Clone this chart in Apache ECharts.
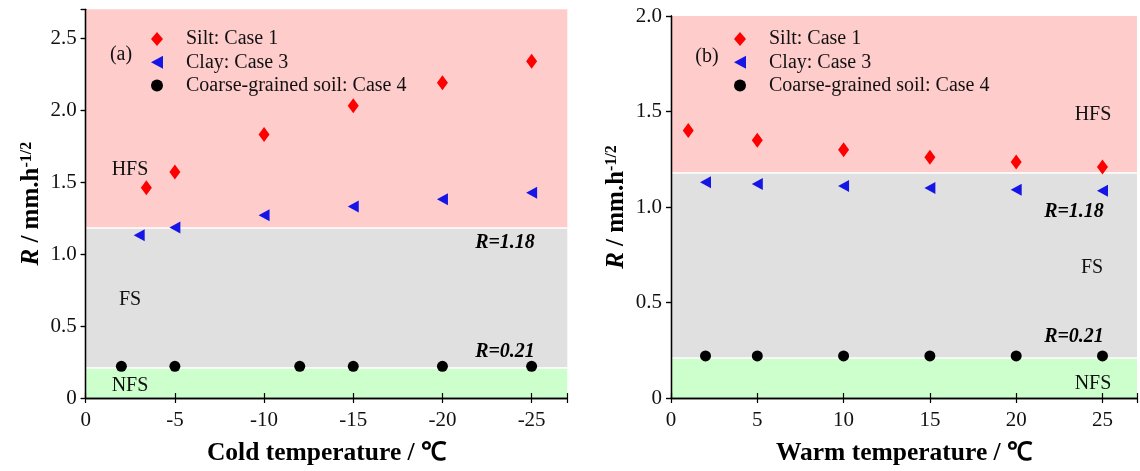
<!DOCTYPE html>
<html>
<head>
<meta charset="utf-8">
<script src="https://cdn.jsdelivr.net/npm/echarts@6/dist/echarts.min.js"></script>
<style>
html,body{margin:0;padding:0;background:#fff;}
#c{width:1140px;height:471px;}
</style>
</head>
<body>
<div id="c"></div>
<script>
// ---------- data ----------
const seriesNames = ['Silt: Case 1', 'Clay: Case 3', 'Coarse-grained soil: Case 4'];
// panel (a) cold temperature
const siltColdX = [-3.4, -5, -10, -15, -20, -25];
const siltColdR = [1.46, 1.57, 1.83, 2.03, 2.19, 2.34];
const clayColdX = [-3, -5, -10, -15, -20, -25];
const clayColdR = [1.13, 1.185, 1.27, 1.33, 1.38, 1.425];
const coarseColdX = [-2, -5, -12, -15, -20, -25];
const coarseColdR = [0.22, 0.22, 0.22, 0.22, 0.22, 0.22];
// panel (b) warm temperature
const siltWarmX = [1, 5, 10, 15, 20, 25];
const siltWarmR = [1.40, 1.35, 1.30, 1.26, 1.235, 1.21];
const clayWarmX = [2, 5, 10, 15, 20, 25];
const clayWarmR = [1.13, 1.12, 1.11, 1.10, 1.09, 1.085];
const coarseWarmX = [2, 5, 10, 15, 20, 25];
const coarseWarmR = [0.22, 0.22, 0.22, 0.22, 0.22, 0.22];
// classification thresholds
const thresholdNFS = 0.21;
const thresholdHFS = 1.18;
const bandLabels = ['HFS', 'FS', 'NFS'];
const thresholdLabels = ['R=1.18', 'R=0.21'];
const panelLabels = ['(a)', '(b)'];
const xTitles = ['Cold temperature / \u2103', 'Warm temperature / \u2103'];

// ---------- styling ----------
const SERIF = '"Liberation Serif", "Times New Roman", serif';
const RED = '#ff0000', BLUE = '#1515e6', BLACK = '#000000';
const PINK = '#ffcccc', GRAY = '#e0e0e0', GREEN = '#ccffcc';
const TRI_LEFT = 'path://M0,6 L11,0 L11,12 Z';

function zip(xs, ys) { return xs.map((x, i) => [x, ys[i]]); }

const yFmt = v => {
  if (Math.abs(v / 0.5 - Math.round(v / 0.5)) > 1e-6) return '';
  return v === 0 ? '0' : v.toFixed(1);
};
const xFmt = v => (Math.abs(v % 5) > 1e-6 ? '' : String(v));

const axisLineStyle = { show: true, lineStyle: { color: '#000', width: 1.3 } };

function xAxisPair(grid, min, max, inverse, title) {
  return [
    {
      type: 'value', gridIndex: grid, position: 'bottom', min, max, inverse, z: 10,
      axisLine: axisLineStyle,
      axisTick: { show: true, inside: true, length: 5, lineStyle: { color: '#000', width: 1.2 } },
      axisLabel: { formatter: xFmt, fontFamily: SERIF, fontSize: 21, color: '#111', margin: 12 },
      splitLine: { show: false },
      name: title, nameLocation: 'middle', nameGap: 42,
      nameTextStyle: { fontFamily: SERIF, fontWeight: 'bold', fontSize: 25.5, color: '#000' }
    },
    {
      type: 'value', gridIndex: grid, position: 'top', min, max, inverse, z: 10,
      axisLine: axisLineStyle,
      axisTick: { show: true, inside: true, length: 5, lineStyle: { color: '#000', width: 1.2 } },
      axisLabel: { show: false }, splitLine: { show: false }
    }
  ];
}
function yAxisPair(grid, max) {
  return [
    {
      type: 'value', gridIndex: grid, position: 'left', min: 0, max, interval: 0.5, z: 10,
      axisLine: axisLineStyle,
      axisTick: { show: true, inside: false, length: 5, lineStyle: { color: '#000', width: 1.2 } },
      axisLabel: { formatter: yFmt, fontFamily: SERIF, fontSize: 21, color: '#111', margin: 9 },
      splitLine: { show: false },
      name: '{i|R}{n| / mm.h}{s|-1/2}', nameLocation: 'middle', nameGap: 42,
      nameTextStyle: {
        fontFamily: SERIF, fontWeight: 'bold', fontSize: 25, color: '#000',
        rich: {
          i: { fontFamily: SERIF, fontWeight: 'bold', fontStyle: 'italic', fontSize: 25, color: '#000' },
          n: { fontFamily: SERIF, fontWeight: 'bold', fontSize: 25, color: '#000' },
          s: { fontFamily: SERIF, fontWeight: 'bold', fontSize: 16, color: '#000', verticalAlign: 'top' }
        }
      }
    },
    {
      type: 'value', gridIndex: grid, position: 'right', min: 0, max, interval: 0.5, z: 10,
      axisLine: axisLineStyle,
      axisTick: { show: true, inside: true, length: 5, lineStyle: { color: '#000', width: 1.2 } },
      axisLabel: { show: false }, splitLine: { show: false }
    }
  ];
}

function bands(xMin, xMax, yMax) {
  return {
    silent: true,
    data: [
      [{ xAxis: xMin, yAxis: thresholdHFS, itemStyle: { color: PINK } }, { xAxis: xMax, yAxis: yMax }],
      [{ xAxis: xMin, yAxis: thresholdNFS, itemStyle: { color: GRAY } }, { xAxis: xMax, yAxis: thresholdHFS }],
      [{ xAxis: xMin, yAxis: 0, itemStyle: { color: GREEN } }, { xAxis: xMax, yAxis: thresholdNFS }]
    ]
  };
}
const whiteLines = {
  silent: true, z: 1.5, symbol: 'none', label: { show: false },
  lineStyle: { color: '#ffffff', width: 1.6, type: 'solid' },
  data: [{ yAxis: thresholdHFS }, { yAxis: thresholdNFS }]
};

function panelSeries(xi, yi, silt, clay, coarse, xMin, xMax, yMax) {
  return [
    {
      name: seriesNames[0], type: 'scatter', xAxisIndex: xi, yAxisIndex: yi, z: 3,
      symbol: 'diamond', symbolSize: [11, 15], itemStyle: { color: RED, opacity: 1 },
      data: silt, markArea: bands(xMin, xMax, yMax), markLine: whiteLines
    },
    {
      name: seriesNames[1], type: 'scatter', xAxisIndex: xi, yAxisIndex: yi, z: 3,
      symbol: TRI_LEFT, symbolSize: [11, 12], itemStyle: { color: BLUE, opacity: 1 },
      data: clay
    },
    {
      name: seriesNames[2], type: 'scatter', xAxisIndex: xi, yAxisIndex: yi, z: 3,
      symbol: 'circle', symbolSize: 11, itemStyle: { color: BLACK, opacity: 1 },
      data: coarse
    }
  ];
}

function legendAt(left) {
  return {
    data: [
      { name: seriesNames[0], icon: 'diamond' },
      { name: seriesNames[1], icon: TRI_LEFT },
      { name: seriesNames[2], icon: 'circle' }
    ],
    orient: 'vertical', left, top: 24,
    itemWidth: 12, itemHeight: 14, itemGap: 3.3, selectedMode: false,
    textStyle: { fontFamily: SERIF, fontSize: 20, color: '#111', lineHeight: 20, padding: [0, 0, 0, 18] }
  };
}

function txt(x, y, text, opts) {
  return {
    type: 'text', x, y, z: 50, silent: true,
    style: Object.assign({
      text, fill: '#111', align: 'center', verticalAlign: 'middle',
      font: '20px "Liberation Serif", serif'
    }, opts || {})
  };
}
const boldItalic = { font: 'italic bold 20px "Liberation Serif", serif', fill: '#000' };

const chart = echarts.init(document.getElementById('c'), null, { renderer: 'canvas' });
chart.setOption({
  animation: false,
  backgroundColor: '#ffffff',
  grid: [
    { left: 85.7, top: 9.3, width: 481.6, height: 392 },
    { left: 671, top: 16, width: 474.4, height: 385.7 }
  ],
  xAxis: [].concat(
    xAxisPair(0, -27, 0, true, xTitles[0]),
    xAxisPair(1, 0, 27, false, xTitles[1])
  ),
  yAxis: [].concat(yAxisPair(0, 2.7), yAxisPair(1, 2.0)),
  legend: [legendAt(146), legendAt(729)],
  series: [].concat(
    panelSeries(0, 0, zip(siltColdX, siltColdR), zip(clayColdX, clayColdR), zip(coarseColdX, coarseColdR), -27, 0, 2.7),
    panelSeries(2, 2, zip(siltWarmX, siltWarmR), zip(clayWarmX, clayWarmR), zip(coarseWarmX, coarseWarmR), 0, 27, 2.0)
  ),
  graphic: [
    txt(121, 55, panelLabels[0]),
    txt(130, 170, bandLabels[0]),
    txt(130, 300, bandLabels[1]),
    txt(130, 386, bandLabels[2]),
    txt(505, 243, thresholdLabels[0], boldItalic),
    txt(505, 352, thresholdLabels[1], boldItalic),
    txt(707, 57, panelLabels[1]),
    txt(1093, 115, bandLabels[0]),
    txt(1092, 268, bandLabels[1]),
    txt(1093, 384, bandLabels[2]),
    txt(1074, 212, thresholdLabels[0], boldItalic),
    txt(1074, 337, thresholdLabels[1], boldItalic)
  ]
});
</script>
</body>
</html>
